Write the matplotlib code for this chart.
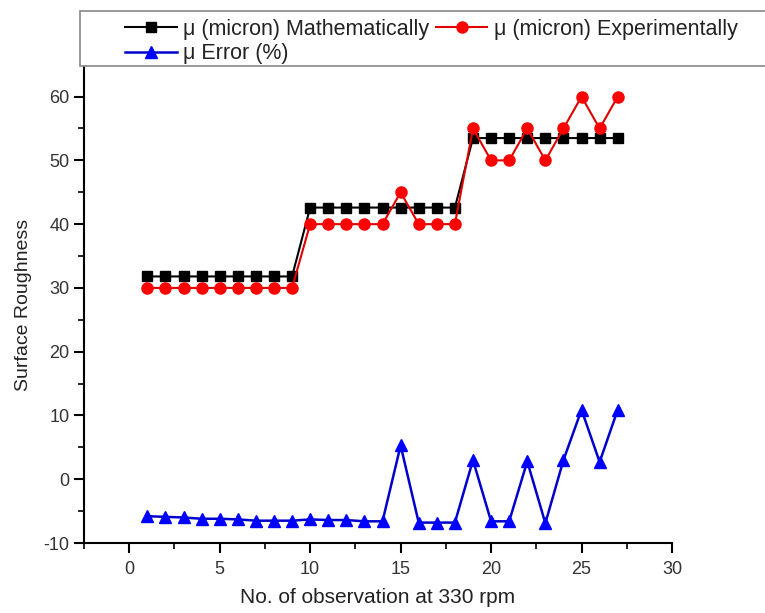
import matplotlib
matplotlib.use('Agg')
import matplotlib.pyplot as plt
from matplotlib.patches import Rectangle
import numpy as np

# observation number
obs = np.arange(1, 28)

# mu (micron) mathematically
mu_math = [31.8] * 9 + [42.6] * 9 + [53.5] * 9

# mu (micron) experimentally
mu_exp = [30, 30, 30, 30, 30, 30, 30, 30, 30,
          40, 40, 40, 40, 40, 45, 40, 40, 40,
          55, 50, 50, 55, 50, 55, 60, 55, 60]

# mu error (%)
mu_err = [-5.8, -5.9, -6.0, -6.2, -6.2, -6.3, -6.5, -6.5, -6.5,
          -6.3, -6.4, -6.4, -6.6, -6.6, 5.3, -6.8, -6.8, -6.8,
          3.0, -6.6, -6.6, 2.8, -6.9, 3.0, 10.9, 2.7, 10.9]

labels = ["\u03bc (micron) Mathematically", "\u03bc (micron) Experimentally", "\u03bc Error (%)"]

plt.rcParams['font.family'] = ['Liberation Sans', 'DejaVu Sans']
plt.rcParams['axes.unicode_minus'] = False

W, H = 765, 613
fig = plt.figure(figsize=(W / 100, H / 100), dpi=100)
ax = fig.add_axes([84 / W, 1 - 543 / H, (672 - 84) / W, (543 - 66) / H])

l1, = ax.plot(obs, mu_math, color='black', marker='s', ms=7.5, lw=1.5)
l2, = ax.plot(obs, mu_exp, color='#e00000', marker='o', ms=8, lw=1.5, mfc='red', mec='red')
l3, = ax.plot(obs, mu_err, color='#0000cc', marker='^', ms=8.5, lw=1.8, mfc='blue', mec='blue')

ax.set_xlim(-2.5, 30)
ax.set_ylim(-10, 64.8)
ax.set_xticks(np.arange(0, 31, 5))
ax.set_xticks(np.arange(-2.5, 30.1, 2.5), minor=True)
ax.set_yticks(np.arange(-10, 61, 10))
ax.set_yticks(np.arange(-10, 61, 5), minor=True)

for s in ['top', 'right']:
    ax.spines[s].set_visible(False)
for s in ['left', 'bottom']:
    ax.spines[s].set_linewidth(1.5)
ax.tick_params(which='major', direction='out', length=7, width=1.5, labelsize=13, colors='black')
ax.tick_params(axis='x', which='major', pad=6)
ax.tick_params(which='minor', direction='out', length=4, width=1.2)
for t in ax.get_xticklabels() + ax.get_yticklabels():
    t.set_color('#333333')

ax.set_xlabel("No. of observation at 330 rpm", fontsize=15, color='#222222', labelpad=7)
ax.set_ylabel("Surface Roughness", fontsize=14, color='#222222', labelpad=8)

# legend box drawn across the top of the figure
fig.patches.append(Rectangle((80 / W, 1 - 66 / H), 1.0, 55 / H, transform=fig.transFigure,
                             facecolor='white', edgecolor='#888888', lw=1.2, zorder=0))
fig.legend([l1, l3, l2], [labels[0], labels[2], labels[1]], loc='upper left',
           bbox_to_anchor=(125 / W, 1 - 19 / H),
           ncol=2, frameon=False, fontsize=15.5, borderpad=0, borderaxespad=0,
           handlelength=2.4, handletextpad=0.3, columnspacing=0.3, labelspacing=0.15,
           labelcolor='#222222')

fig.savefig("out.png", dpi=100)
